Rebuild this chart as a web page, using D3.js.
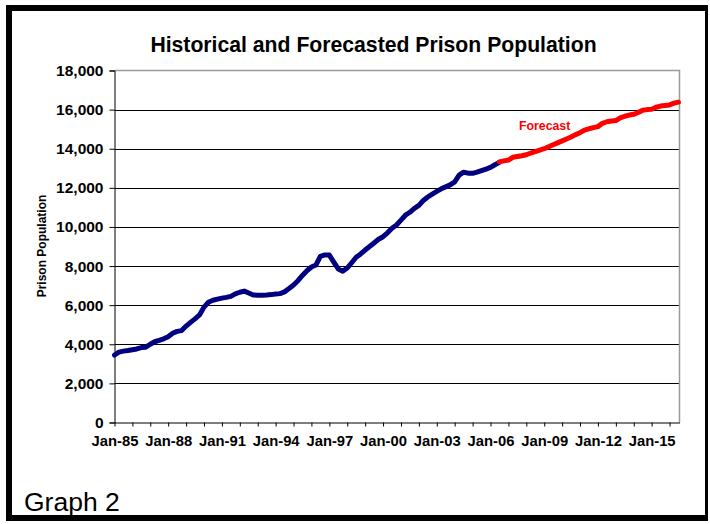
<!DOCTYPE html>
<html><head><meta charset="utf-8">
<script src="https://cdn.jsdelivr.net/npm/d3@7"></script>
<style>
body{margin:0;background:#fff}
svg{display:block}
text{font-family:"Liberation Sans",Arial,Helvetica,sans-serif}
</style>
</head><body>
<svg id="c" width="710" height="524"></svg>
<script>
// ---- data (quarterly readings) ----
const histStart = "1985-01";
const historical = [
  3450,3600,3650,3680, 3720,3760,3830,3850, 4000,4130,4200,4280, 4390,4560,4660,4700,
  4930,5120,5300,5500, 5900,6150,6250,6310, 6360,6400,6450,6580, 6660,6720,6620,6520,
  6510,6510,6520,6540, 6570,6590,6680,6850, 7030,7250,7520,7760, 7950,8050,8500,8570,
  8560,8200,7850,7740, 7900,8170,8450,8620, 8820,9000,9180,9370, 9500,9700,9930,10100,
  10350,10600,10750,10950, 11100,11350,11530,11680, 11820,11950,12050,12150,
  12300,12650,12800,12750, 12740,12800,12880,12960, 13050,13180,13300
];
const forecastStart = "2006-07";
const forecast = [
  13330,13380, 13420,13560,13600,13640, 13690,13780,13850,13930, 14000,14100,14200,14300,
  14400,14500,14600,14720, 14820,14950,15020,15080, 15130,15300,15380,15420,
  15440,15580,15660,15720, 15760,15850,15970,16000, 16020,16120,16180,16210,
  16240,16330,16380
];
const yTicks = [0,2000,4000,6000,8000,10000,12000,14000,16000,18000];
const xLabelYears = [1985,1988,1991,1994,1997,2000,2003,2006,2009,2012,2015];
const titleText = "Historical and Forecasted Prison Population";
const yTitle = "Prison Population";
const forecastLabel = "Forecast";
const captionText = "Graph 2";

// ---- layout ----
const svg = d3.select("#c");
const L = 114.5, R = 679.5, T = 70.5, B = 422.5;
const parse = d3.timeParse("%Y-%m");
const x = d3.scaleTime().domain([new Date(1985,0,1), new Date(2016,6,22)]).range([L, R]);
const y = d3.scaleLinear().domain([0,18000]).range([B, T]);

const toSeries = (start, vals) => vals.map((v,i)=>({d: d3.timeMonth.offset(parse(start), i*3), v}));
const hist = toSeries(histStart, historical);
const fc = toSeries(forecastStart, forecast);

// frame
svg.append("rect").attr("x",0).attr("y",0).attr("width",710).attr("height",524).attr("fill","#fff");
svg.append("rect").attr("x",6).attr("y",5).attr("width",6).attr("height",516).attr("fill","#000");
svg.append("rect").attr("x",6).attr("y",5).attr("width",702).attr("height",6).attr("fill","#000");
svg.append("rect").attr("x",6).attr("y",515).attr("width",702).attr("height",6).attr("fill","#000");
svg.append("rect").attr("x",705).attr("y",5).attr("width",3).attr("height",516).attr("fill","#000");

// gridlines
svg.append("g").selectAll("line").data(yTicks.filter(t=>t>0 && t<18000)).join("line")
  .attr("x1",L).attr("x2",R).attr("y1",d=>Math.round(y(d))+0.5).attr("y2",d=>Math.round(y(d))+0.5)
  .attr("stroke","#000").attr("stroke-width",1);
// plot border (top / right)
svg.append("path").attr("d",`M${L},${T}H${R}V${B}`).attr("fill","none").attr("stroke","#9a9a9a").attr("stroke-width",1.5);

// y axis
const yAxis = svg.append("g").attr("transform",`translate(${L},0)`)
  .call(d3.axisLeft(y).tickValues(yTicks).tickSize(5).tickPadding(6).tickFormat(d3.format(",")));
yAxis.select(".domain").attr("stroke","#000");
yAxis.selectAll("line").attr("stroke","#000");
yAxis.selectAll("text").attr("font-size","15.5px").attr("font-weight","bold").attr("fill","#000")
  .style("font-family","'Liberation Sans',Arial,sans-serif");

// x axis
const yearTicks = d3.timeYear.range(new Date(1985,0,1), new Date(2016,6,22));
const xAxis = svg.append("g").attr("transform",`translate(0,${B})`)
  .call(d3.axisBottom(x).tickValues(yearTicks).tickSize(4).tickSizeOuter(0).tickPadding(9)
    .tickFormat(d=> xLabelYears.includes(d.getFullYear()) ? d3.timeFormat("%b-%y")(d) : ""));
xAxis.select(".domain").attr("stroke","#000");
xAxis.selectAll("line").attr("stroke","#000");
xAxis.selectAll("text").attr("font-size","14.8px").attr("font-weight","bold").attr("fill","#000")
  .style("font-family","'Liberation Sans',Arial,sans-serif");

// lines
const line = d3.line().x(d=>x(d.d)).y(d=>y(d.v));
svg.append("path").datum(hist).attr("d",line).attr("fill","none").attr("stroke","#000080")
  .attr("stroke-width",5).attr("stroke-linejoin","round").attr("stroke-linecap","round");
svg.append("path").datum(fc).attr("d",line).attr("fill","none").attr("stroke","#ff0000")
  .attr("stroke-width",5).attr("stroke-linejoin","round").attr("stroke-linecap","round");

// texts
svg.append("text").attr("x",373.5).attr("y",52).attr("text-anchor","middle")
  .attr("font-size","21.2px").attr("font-weight","bold").text(titleText);
svg.append("text").attr("transform","translate(46,246) rotate(-90)").attr("text-anchor","middle")
  .attr("font-size","12px").attr("font-weight","bold").text(yTitle);
svg.append("text").attr("x",519).attr("y",129.5).attr("fill","#ff0000")
  .attr("font-size","12.3px").attr("font-weight","bold").text(forecastLabel);
svg.append("text").attr("x",24).attr("y",511).attr("font-size","26.5px").text(captionText);
</script>
</body></html>
